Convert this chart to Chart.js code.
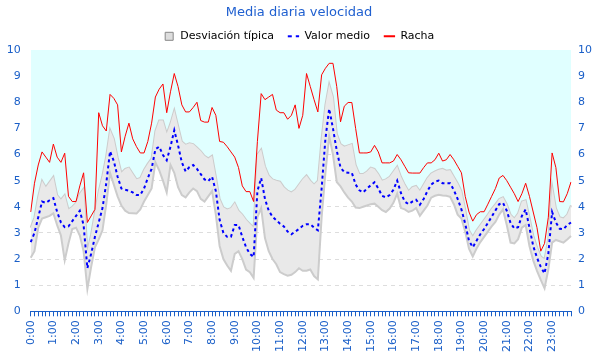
<!DOCTYPE html>
<html>
<head>
<meta charset="utf-8">
<title>Media diaria velocidad</title>
<script src="https://cdn.jsdelivr.net/npm/chart.js@4"></script>
<style>
  html, body { margin: 0; padding: 0; background: #fff; }
  #wrap { width: 600px; height: 360px; }
</style>
</head>
<body>
<div id="wrap"><canvas id="myChart" width="600" height="360"></canvas></div>
<script>
// Etiquetas cada 10 minutos (0:00 ... 23:50)
const horas = [];
for (let h = 0; h < 24; h++) {
  for (let m = 0; m < 60; m += 10) {
    horas.push(h + ":" + String(m).padStart(2, "0"));
  }
}

// Racha máxima
const racha = [
  3.8, 4.9, 5.6, 6.1, 5.9, 5.7, 6.4, 5.9, 5.7, 6.05,
  4.4, 4.2, 4.2, 4.8, 5.3, 3.4, 3.65, 3.9, 7.6, 7.1,
  6.9, 8.3, 8.15, 7.9, 6.1, 6.7, 7.2, 6.6, 6.3, 6.06,
  6.06, 6.5, 7.2, 8.2, 8.5, 8.7, 7.6, 8.4, 9.1, 8.6,
  7.9, 7.63, 7.63, 7.8, 8.0, 7.3, 7.24, 7.24, 7.8, 7.5,
  6.5, 6.47, 6.3, 6.1, 5.9, 5.5, 4.8, 4.58, 4.58, 4.2,
  6.5, 8.33, 8.1, 8.2, 8.3, 7.7, 7.6, 7.6, 7.35, 7.5,
  7.9, 7.0, 7.5, 9.1, 8.6, 8.1, 7.63, 9.05, 9.3, 9.49,
  9.49, 8.6, 7.25, 7.85, 7.99, 7.99, 7.0, 6.06, 6.06, 6.06,
  6.1, 6.35, 6.1, 5.68, 5.68, 5.68, 5.75, 6.0, 5.8, 5.55,
  5.3, 5.29, 5.29, 5.29, 5.5, 5.68, 5.68, 5.8, 6.05, 5.75,
  5.8, 6.0, 5.8, 5.55, 5.3, 4.4, 3.8, 3.45, 3.7, 3.81,
  3.81, 4.1, 4.4, 4.7, 5.1, 5.2, 5.0, 4.75, 4.5, 4.2,
  4.5, 4.9, 4.4, 3.8, 3.2, 2.3, 2.6, 3.6, 6.06, 5.5,
  4.2, 4.19, 4.5, 4.95
];

// Valor medio
const media = [
  2.65, 3.0, 3.6, 4.2, 4.15, 4.25, 4.33, 3.8, 3.4, 3.22,
  3.25, 3.45, 3.65, 3.85, 3.3, 1.65, 2.2, 2.85, 3.4, 3.95,
  4.9, 6.12, 5.75, 5.15, 4.7, 4.65, 4.62, 4.55, 4.45, 4.45,
  4.7, 5.1, 5.45, 6.2, 6.3, 5.98, 5.78, 6.3, 6.93, 6.35,
  5.7, 5.35, 5.52, 5.6, 5.45, 5.25, 5.05, 4.98, 5.15, 4.6,
  3.5, 3.0, 2.85, 2.85, 3.3, 3.3, 2.85, 2.45, 2.2, 2.08,
  4.6, 5.1, 4.3, 3.85, 3.62, 3.48, 3.35, 3.25, 3.05, 2.95,
  3.05, 3.15, 3.27, 3.33, 3.33, 3.2, 3.1, 4.7, 6.6, 7.75,
  7.0, 6.15, 5.5, 5.33, 5.3, 5.3, 4.85, 4.63, 4.55, 4.7,
  4.82, 4.94, 4.7, 4.42, 4.36, 4.45, 4.65, 5.0, 4.52, 4.2,
  4.1, 4.2, 4.27, 4.08, 4.3, 4.6, 4.85, 4.96, 5.0, 4.9,
  4.9, 4.9, 4.64, 4.3, 3.9, 3.35, 2.7, 2.45, 2.7, 2.95,
  3.15, 3.38, 3.62, 3.86, 4.1, 4.15, 3.85, 3.38, 3.17, 3.22,
  3.65, 3.9, 3.2, 2.5, 2.05, 1.7, 1.45, 2.2, 3.8, 3.4,
  3.16, 3.14, 3.3, 3.4
];

// Media + desviación típica
const desvSup = [
  3.2, 3.6, 4.4, 5.0, 4.75, 4.95, 5.15, 4.45, 4.27, 4.45,
  3.9, 4.0, 4.15, 4.5, 4.7, 2.3, 2.95, 3.78, 4.6, 5.2,
  5.95, 6.95, 6.6, 5.9, 5.3, 5.45, 5.5, 5.27, 5.05, 5.1,
  5.42, 5.65, 5.85, 6.9, 7.3, 7.3, 6.8, 7.2, 7.7, 7.1,
  6.5, 6.37, 6.43, 6.4, 6.27, 6.13, 5.95, 5.85, 5.95, 5.15,
  4.3, 3.98, 3.9, 3.95, 4.15, 3.85, 3.7, 3.5, 3.35, 3.21,
  6.0, 6.2, 5.55, 5.2, 5.05, 5.0, 4.96, 4.75, 4.62, 4.55,
  4.65, 4.85, 5.05, 5.2, 5.0, 4.85, 5.0, 6.6, 7.9, 8.7,
  8.2, 6.8, 6.4, 6.3, 6.35, 6.4, 5.6, 5.25, 5.25, 5.35,
  5.5, 5.45, 5.25, 5.0, 5.05, 5.15, 5.35, 5.55, 5.15, 4.85,
  4.6, 4.75, 4.8, 4.6, 4.85, 5.1, 5.27, 5.35, 5.42, 5.45,
  5.38, 5.4, 5.15, 4.9, 4.6, 3.9, 3.1, 2.85, 3.1, 3.3,
  3.5, 3.7, 3.92, 4.1, 4.3, 4.36, 4.1, 3.7, 3.55, 3.75,
  4.2, 4.25, 3.6, 2.9, 2.45, 2.1, 1.99, 2.8, 4.8, 3.95,
  3.6, 3.55, 3.7, 4.05
];

// Media - desviación típica
const desvInf = [
  2.05, 2.3, 3.2, 3.55, 3.6, 3.65, 3.75, 3.3, 2.9, 1.95,
  2.6, 3.15, 3.2, 2.9, 2.3, 0.85, 1.7, 2.45, 2.75, 3.1,
  4.1, 5.3, 4.85, 4.4, 4.05, 3.85, 3.76, 3.75, 3.74, 3.9,
  4.2, 4.45, 4.7, 5.7, 5.4, 5.0, 4.55, 5.6, 5.3, 4.75,
  4.45, 4.36, 4.55, 4.7, 4.6, 4.3, 4.2, 4.4, 4.6, 3.7,
  2.5, 2.0, 1.75, 1.55, 2.2, 2.3, 2.0, 1.6, 1.5, 1.28,
  3.6, 3.95, 2.8, 2.3, 2.0, 1.8, 1.5, 1.42, 1.36, 1.4,
  1.5, 1.65, 1.55, 1.55, 1.6, 1.35, 1.22, 3.6, 5.3, 6.7,
  6.0, 4.95, 4.78, 4.55, 4.35, 4.2, 3.97, 3.95, 4.0, 4.05,
  4.1, 4.12, 4.0, 3.87, 3.8, 3.93, 4.15, 4.5, 3.95, 3.9,
  3.8, 3.85, 3.95, 3.65, 3.85, 4.05, 4.35, 4.42, 4.46, 4.43,
  4.42, 4.38, 4.1, 3.7, 3.55, 3.05, 2.4, 2.1, 2.4, 2.65,
  2.85, 3.05, 3.25, 3.42, 3.7, 3.9, 3.3, 2.63, 2.6, 2.76,
  3.2, 3.3, 2.5, 1.95, 1.55, 1.2, 0.88, 1.6, 2.63, 2.73,
  2.68, 2.63, 2.75, 2.88
];

const AZUL = "#1a5fc8";
const CIAN = "#e0ffff";
const GRIS_BORDE = "#cccccc";
const GRIS_FONDO = "#e9e9e9";

Chart.defaults.font.family = "'DejaVu Sans', sans-serif";

// La leyenda ocupa una altura fija para que el área de datos empiece en y=50
const alturaLeyenda = {
  id: "alturaLeyenda",
  beforeInit(chart) {
    const fitOriginal = chart.legend.fit;
    chart.legend.fit = function () {
      fitOriginal.call(this);
      this.height = 33.2;
    };
  },
};

function main() {
  const ctx = document.getElementById("myChart").getContext("2d");
  new Chart(ctx, {
    type: "line",
    data: {
      labels: horas,
      datasets: [
        {
          label: "Desviación típica",
          data: desvSup,
          borderColor: GRIS_BORDE,
          borderWidth: 2,
          backgroundColor: CIAN,
          fill: "end",
          pointRadius: 0,
          tension: 0,
          order: 4,
        },
        {
          label: "Desviación típica (inf)",
          data: desvInf,
          borderColor: GRIS_BORDE,
          borderWidth: 2,
          backgroundColor: GRIS_FONDO,
          fill: "-1",
          pointRadius: 0,
          tension: 0,
          order: 3,
        },
        {
          label: "Valor medio",
          data: media,
          borderColor: "#0000ff",
          borderWidth: 2,
          borderDash: [3, 3],
          fill: false,
          pointRadius: 0,
          tension: 0,
          order: 1,
        },
        {
          label: "Racha",
          data: racha,
          borderColor: "#ff0000",
          borderWidth: 1,
          fill: false,
          pointRadius: 0,
          tension: 0,
          order: 0,
        },
      ],
    },
    plugins: [alturaLeyenda],
    options: {
      responsive: false,
      animation: false,
      devicePixelRatio: 1,
      layout: { padding: { left: 6, right: 8, top: 0, bottom: 4 } },
      plugins: {
        title: {
          display: true,
          text: "Media diaria velocidad",
          color: "#2060d0",
          font: { size: 13, weight: "normal", lineHeight: 0.6 },
          padding: { top: 9, bottom: 0 },
        },
        legend: {
          display: true,
          labels: {
            color: "#000",
            font: { size: 11 },
            usePointStyle: true,
            boxWidth: 11,
            boxHeight: 8,
            padding: 14,
            generateLabels: () => [
              { text: "Desviación típica", fillStyle: "#dddddd", strokeStyle: "#888888", lineWidth: 1, pointStyle: "rect", datasetIndex: 0 },
              { text: "Valor medio", fillStyle: "#0000ff", strokeStyle: "#0000ff", lineWidth: 2, lineDash: [4, 4], pointStyle: "line", datasetIndex: 2 },
              { text: "Racha", fillStyle: "#ff0000", strokeStyle: "#ff0000", lineWidth: 2, pointStyle: "line", datasetIndex: 3 },
            ],
          },
        },
        tooltip: { enabled: false },
      },
      scales: {
        x: {
          offset: false,
          grid: { drawOnChartArea: false, drawTicks: true, tickLength: 5, color: AZUL },
          border: { display: true, color: AZUL },
          ticks: {
            autoSkip: false,
            minRotation: 90,
            maxRotation: 90,
            color: AZUL,
            font: { size: 11 },
            padding: 4,
            callback: function (value) {
              const l = this.getLabelForValue(value);
              return l.endsWith(":00") ? l : "";
            },
          },
        },
        y: {
          min: 0,
          max: 10,
          afterFit: (scale) => { scale.width = 24.7; },
          ticks: { stepSize: 1, color: AZUL, font: { size: 11 }, padding: 10 },
          grid: { color: "#dddddd", drawTicks: false },
          border: { display: false, dash: [4, 4] },
        },
        y2: {
          position: "right",
          min: 0,
          max: 10,
          afterFit: (scale) => { scale.width = 21; },
          ticks: { stepSize: 1, color: AZUL, font: { size: 11 }, padding: 7 },
          grid: { drawOnChartArea: false, drawTicks: false },
          border: { display: false },
        },
      },
    },
  });
}

document.addEventListener("DOMContentLoaded", main);
</script>
</body>
</html>
